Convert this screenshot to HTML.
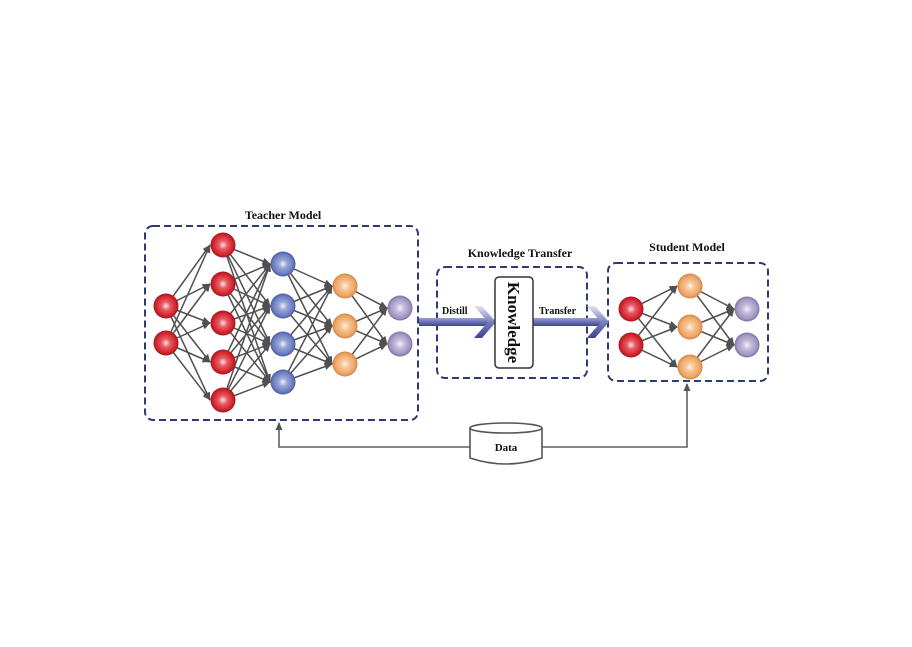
<!DOCTYPE html>
<html>
<head>
<meta charset="utf-8">
<style>
html,body{margin:0;padding:0;background:#fff;}
svg{display:block;}
text{font-family:"Liberation Serif",serif;font-weight:bold;fill:#111;}
</style>
</head>
<body>
<svg width="912" height="647" viewBox="0 0 912 647" xmlns="http://www.w3.org/2000/svg">
<defs>
  <radialGradient id="gr" cx="50%" cy="50%" r="50%">
    <stop offset="0" stop-color="#fbe2e2"/>
    <stop offset="0.35" stop-color="#e85a62"/>
    <stop offset="0.8" stop-color="#d0242e"/>
    <stop offset="1" stop-color="#a8141c"/>
  </radialGradient>
  <radialGradient id="gb" cx="50%" cy="50%" r="50%">
    <stop offset="0" stop-color="#eef0fa"/>
    <stop offset="0.35" stop-color="#98a4d6"/>
    <stop offset="0.8" stop-color="#6a7cc0"/>
    <stop offset="1" stop-color="#4a5a9e"/>
  </radialGradient>
  <radialGradient id="go" cx="50%" cy="50%" r="50%">
    <stop offset="0" stop-color="#fdf0e4"/>
    <stop offset="0.35" stop-color="#f5c494"/>
    <stop offset="0.8" stop-color="#eda464"/>
    <stop offset="1" stop-color="#d08448"/>
  </radialGradient>
  <radialGradient id="gp" cx="50%" cy="50%" r="50%">
    <stop offset="0" stop-color="#f4f2f8"/>
    <stop offset="0.35" stop-color="#c4bcda"/>
    <stop offset="0.8" stop-color="#a296c2"/>
    <stop offset="1" stop-color="#7e70a2"/>
  </radialGradient>
  <linearGradient id="shaft" x1="0" y1="0" x2="0" y2="1">
    <stop offset="0" stop-color="#9aa0d0"/>
    <stop offset="1" stop-color="#3c4490"/>
  </linearGradient>
  <linearGradient id="chev" x1="0" y1="0" x2="0" y2="1">
    <stop offset="0" stop-color="#e4e4f0"/>
    <stop offset="0.5" stop-color="#7a80bc"/>
    <stop offset="1" stop-color="#3a4290"/>
  </linearGradient>
  <marker id="ah" markerWidth="8" markerHeight="7" refX="7.5" refY="3.5" orient="auto" markerUnits="userSpaceOnUse">
    <path d="M0,0 L8,3.5 L0,7 Z" fill="#505050"/>
  </marker>
  <marker id="ah2" markerWidth="8" markerHeight="8" refX="7" refY="4" orient="auto" markerUnits="userSpaceOnUse">
    <path d="M0,0.5 L8,4 L0,7.5 Z" fill="#555"/>
  </marker>
</defs>

<!-- Titles -->
<text x="283" y="219" font-size="12" text-anchor="middle">Teacher Model</text>
<text x="520" y="257" font-size="12" text-anchor="middle">Knowledge Transfer</text>
<text x="687" y="251" font-size="12" text-anchor="middle">Student Model</text>

<!-- Dashed boxes -->
<g fill="none" stroke="#2e3a78" stroke-width="2" stroke-dasharray="7,4">
  <rect x="145" y="226" width="273" height="194" rx="8"/>
  <rect x="437" y="267" width="150" height="111" rx="8"/>
  <rect x="608" y="263" width="160" height="118" rx="8"/>
</g>

<!-- Teacher edges -->
<g stroke="#505050" stroke-width="1.5" marker-end="url(#ah)">
  <!-- L1 -> L2 -->
  <line x1="166" y1="306" x2="210" y2="245"/>
  <line x1="166" y1="306" x2="210" y2="284"/>
  <line x1="166" y1="306" x2="210" y2="323"/>
  <line x1="166" y1="306" x2="210" y2="362"/>
  <line x1="166" y1="306" x2="210" y2="400"/>
  <line x1="166" y1="343" x2="210" y2="245"/>
  <line x1="166" y1="343" x2="210" y2="284"/>
  <line x1="166" y1="343" x2="210" y2="323"/>
  <line x1="166" y1="343" x2="210" y2="362"/>
  <line x1="166" y1="343" x2="210" y2="400"/>
  <!-- L2 -> L3 -->
  <line x1="223" y1="245" x2="270" y2="264"/>
  <line x1="223" y1="245" x2="270" y2="306"/>
  <line x1="223" y1="245" x2="270" y2="344"/>
  <line x1="223" y1="245" x2="270" y2="382"/>
  <line x1="223" y1="284" x2="270" y2="264"/>
  <line x1="223" y1="284" x2="270" y2="306"/>
  <line x1="223" y1="284" x2="270" y2="344"/>
  <line x1="223" y1="284" x2="270" y2="382"/>
  <line x1="223" y1="323" x2="270" y2="264"/>
  <line x1="223" y1="323" x2="270" y2="306"/>
  <line x1="223" y1="323" x2="270" y2="344"/>
  <line x1="223" y1="323" x2="270" y2="382"/>
  <line x1="223" y1="362" x2="270" y2="264"/>
  <line x1="223" y1="362" x2="270" y2="306"/>
  <line x1="223" y1="362" x2="270" y2="344"/>
  <line x1="223" y1="362" x2="270" y2="382"/>
  <line x1="223" y1="400" x2="270" y2="264"/>
  <line x1="223" y1="400" x2="270" y2="306"/>
  <line x1="223" y1="400" x2="270" y2="344"/>
  <line x1="223" y1="400" x2="270" y2="382"/>
  <!-- L3 -> L4 -->
  <line x1="283" y1="264" x2="332" y2="286"/>
  <line x1="283" y1="264" x2="332" y2="326"/>
  <line x1="283" y1="264" x2="332" y2="364"/>
  <line x1="283" y1="306" x2="332" y2="286"/>
  <line x1="283" y1="306" x2="332" y2="326"/>
  <line x1="283" y1="306" x2="332" y2="364"/>
  <line x1="283" y1="344" x2="332" y2="286"/>
  <line x1="283" y1="344" x2="332" y2="326"/>
  <line x1="283" y1="344" x2="332" y2="364"/>
  <line x1="283" y1="382" x2="332" y2="286"/>
  <line x1="283" y1="382" x2="332" y2="326"/>
  <line x1="283" y1="382" x2="332" y2="364"/>
  <!-- L4 -> L5 -->
  <line x1="345" y1="286" x2="387" y2="308"/>
  <line x1="345" y1="286" x2="387" y2="344"/>
  <line x1="345" y1="326" x2="387" y2="308"/>
  <line x1="345" y1="326" x2="387" y2="344"/>
  <line x1="345" y1="364" x2="387" y2="308"/>
  <line x1="345" y1="364" x2="387" y2="344"/>
  <!-- Student S1 -> S2 -->
  <line x1="631" y1="309" x2="677" y2="286"/>
  <line x1="631" y1="309" x2="677" y2="327"/>
  <line x1="631" y1="309" x2="677" y2="367"/>
  <line x1="631" y1="345" x2="677" y2="286"/>
  <line x1="631" y1="345" x2="677" y2="327"/>
  <line x1="631" y1="345" x2="677" y2="367"/>
  <!-- S2 -> S3 -->
  <line x1="690" y1="286" x2="734" y2="309"/>
  <line x1="690" y1="286" x2="734" y2="345"/>
  <line x1="690" y1="327" x2="734" y2="309"/>
  <line x1="690" y1="327" x2="734" y2="345"/>
  <line x1="690" y1="367" x2="734" y2="309"/>
  <line x1="690" y1="367" x2="734" y2="345"/>
</g>

<!-- Teacher nodes -->
<g>
  <circle cx="166" cy="306" r="12.5" fill="url(#gr)"/>
  <circle cx="166" cy="343" r="12.5" fill="url(#gr)"/>
  <circle cx="223" cy="245" r="12.5" fill="url(#gr)"/>
  <circle cx="223" cy="284" r="12.5" fill="url(#gr)"/>
  <circle cx="223" cy="323" r="12.5" fill="url(#gr)"/>
  <circle cx="223" cy="362" r="12.5" fill="url(#gr)"/>
  <circle cx="223" cy="400" r="12.5" fill="url(#gr)"/>
  <circle cx="283" cy="264" r="12.5" fill="url(#gb)"/>
  <circle cx="283" cy="306" r="12.5" fill="url(#gb)"/>
  <circle cx="283" cy="344" r="12.5" fill="url(#gb)"/>
  <circle cx="283" cy="382" r="12.5" fill="url(#gb)"/>
  <circle cx="345" cy="286" r="12.5" fill="url(#go)"/>
  <circle cx="345" cy="326" r="12.5" fill="url(#go)"/>
  <circle cx="345" cy="364" r="12.5" fill="url(#go)"/>
  <circle cx="400" cy="308" r="12.5" fill="url(#gp)"/>
  <circle cx="400" cy="344" r="12.5" fill="url(#gp)"/>
</g>

<!-- Student nodes -->
<g>
  <circle cx="631" cy="309" r="12.5" fill="url(#gr)"/>
  <circle cx="631" cy="345" r="12.5" fill="url(#gr)"/>
  <circle cx="690" cy="286" r="12.5" fill="url(#go)"/>
  <circle cx="690" cy="327" r="12.5" fill="url(#go)"/>
  <circle cx="690" cy="367" r="12.5" fill="url(#go)"/>
  <circle cx="747" cy="309" r="12.5" fill="url(#gp)"/>
  <circle cx="747" cy="345" r="12.5" fill="url(#gp)"/>
</g>

<!-- Big arrows -->
<rect x="419" y="318" width="70" height="8" fill="url(#shaft)"/>
<polygon points="474,306 482,306 496,322 482,338 474,338 488,322" fill="url(#chev)"/>
<rect x="533" y="318" width="70" height="8" fill="url(#shaft)"/>
<polygon points="587,306 595,306 609,322 595,338 587,338 601,322" fill="url(#chev)"/>

<text x="442" y="314" font-size="10">Distill</text>
<text x="539" y="314" font-size="10">Transfer</text>

<!-- Knowledge box -->
<rect x="495" y="277" width="38" height="91" rx="4" fill="#fff" stroke="#333" stroke-width="1.5"/>
<text x="0" y="0" font-size="17" text-anchor="middle" transform="translate(508,322.5) rotate(90)">Knowledge</text>

<!-- Data connectors -->
<g fill="none" stroke="#606060" stroke-width="1.6">
  <path d="M470,447 H279 V423" marker-end="url(#ah2)"/>
  <path d="M542,447 H687 V384" marker-end="url(#ah2)"/>
</g>

<!-- Data cylinder -->
<path d="M470,428 V458 Q506,470 542,458 V428" fill="#fff" stroke="#555" stroke-width="1.6"/>
<ellipse cx="506" cy="428" rx="36" ry="5" fill="#fff" stroke="#555" stroke-width="1.6"/>
<text x="506" y="451" font-size="11" text-anchor="middle">Data</text>
</svg>
</body>
</html>
